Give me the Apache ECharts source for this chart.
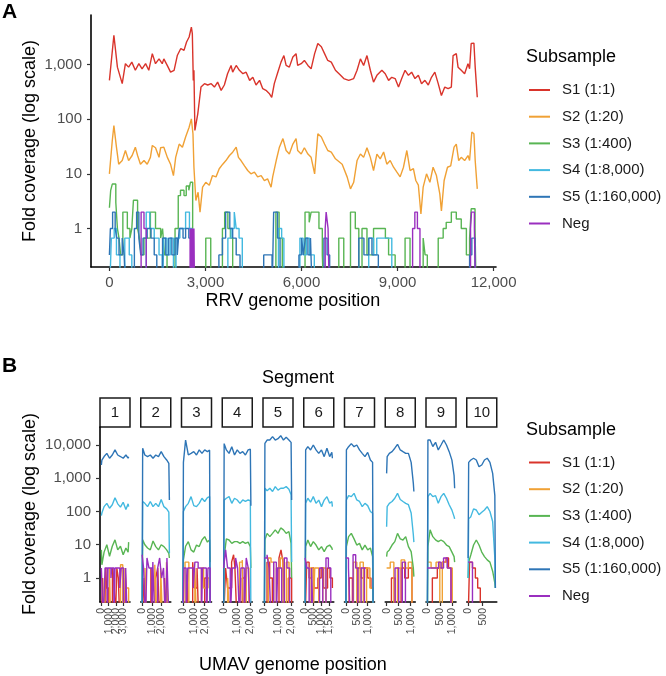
<!DOCTYPE html>
<html><head><meta charset="utf-8">
<script src="https://cdn.jsdelivr.net/npm/echarts@6/dist/echarts.min.js"></script>
<style>html,body{margin:0;padding:0;background:#fff}#c{width:666px;height:676px}</style>
</head><body><div id="c"></div>
<script>
// ---------- shared ----------
const subsampleNames = ['S1 (1:1)','S2 (1:20)','S3 (1:400)','S4 (1:8,000)','S5 (1:160,000)','Neg'];
const subsampleColors = ['#d9342b','#f0a135','#58b553','#43b9e0','#2e75b6','#9a2fbf'];

// ---------- panel A : RRV ----------
const rrvTicksX = [0,3000,6000,9000,12000];
const rrvTicksY = [1,10,100,1000];
const rrvS1 = [[0,510],[140,3400],[250,890],[400,444],[500,1030],[600,890],[700,1100],[810,780],[920,1030],[1020,830],[1130,1030],[1230,780],[1340,1570],[1440,1030],[1550,1260],[1650,1030],[1700,1260],[1810,950],[1910,720],[2020,780],[2120,1450],[2230,1950],[2330,1800],[2410,2560],[2490,3160],[2560,4800],[2590,3650],[2620,510],[2640,780],[2670,62],[2760,125],[2810,219],[2860,385],[2970,444],[3070,420],[3180,444],[3280,385],[3380,474],[3490,335],[3590,420],[3690,675],[3800,955],[3850,720],[3960,955],[4060,780],[4170,675],[4270,720],[4380,510],[4480,580],[4580,420],[4690,510],[4790,360],[4890,335],[5000,290],[5070,250],[5150,444],[5260,720],[5360,1100],[5450,1450],[5520,955],[5620,890],[5730,1360],[5830,1570],[5880,955],[5990,1030],[6090,1180],[6200,955],[6300,830],[6410,1570],[6510,2400],[6620,2100],[6720,1570],[6820,1180],[6930,1100],[7060,780],[7220,630],[7320,550],[7475,510],[7630,550],[7735,780],[7840,1260],[7940,955],[8045,1450],[8150,780],[8250,474],[8355,630],[8510,780],[8615,675],[8720,510],[8820,580],[8925,550],[9030,385],[9130,550],[9235,780],[9340,630],[9440,720],[9545,550],[9650,630],[9750,444],[9855,510],[9960,420],[10060,580],[10165,720],[10270,444],[10370,270],[10475,385],[10580,360],[10680,385],[10735,1450],[10835,1570],[10890,890],[10990,780],[11095,675],[11200,1030],[11250,830],[11300,2400],[11385,2450],[11425,890],[11490,250]];
const rrvS2 = [[0,10],[90,40.7],[140,76],[220,30.7],[290,15],[400,17.5],[500,26.7],[600,17.5],[710,21.6],[810,30.7],[880,21.6],[970,15],[1080,17.5],[1180,15],[1280,20],[1340,33],[1440,30],[1550,20],[1600,30],[1700,30.7],[1810,20],[1910,15],[2000,9.3],[2070,20],[2180,35],[2280,30.7],[2380,47],[2490,71],[2560,101],[2610,54],[2640,13.2],[2700,3.25],[2770,4.6],[2830,2.0],[2910,5.7],[3010,7.0],[3120,6.2],[3220,9.3],[3330,8.8],[3430,12.4],[3540,15],[3640,17.5],[3750,21.6],[3850,24.9],[3960,30.7],[4030,20],[4110,17.5],[4220,14],[4320,11.5],[4420,10],[4530,10.7],[4630,8.8],[4740,9.3],[4840,7.55],[4940,8.1],[5050,5.7],[5100,8.8],[5210,17.5],[5310,30.7],[5420,44],[5520,26.7],[5620,23],[5730,35],[5830,44],[5880,26.7],[5990,23],[6090,30],[6200,23],[6300,20],[6410,10],[6510,54],[6620,47],[6720,35],[6820,26.7],[6930,25],[7060,18.8],[7270,15],[7425,8.8],[7530,5.3],[7630,7],[7735,17.5],[7840,23],[7940,20],[8045,30],[8150,20],[8250,11.5],[8355,23],[8460,18.8],[8565,25],[8665,15],[8770,17.5],[8875,13.2],[8980,10.7],[9080,8.8],[9185,13.2],[9290,26.7],[9390,11.5],[9495,12.4],[9570,7.55],[9650,6.2],[9730,1.85],[9800,5.7],[9905,10],[10010,7],[10110,13.2],[10215,9.3],[10320,4.3],[10370,2.1],[10455,7.55],[10560,13.2],[10660,14],[10765,30.7],[10835,35],[10910,17.5],[10990,20],[11095,17.5],[11200,21.6],[11250,17.5],[11320,58],[11385,54],[11425,17.5],[11490,5.3]];
const rrvS3 = [[0,2.4],[40,5],[90,6.5],[200,3],[250,1],[300,0.67],[350,0.33],[420,2],[560,1],[640,0.67],[700,1],[750,3.3],[880,1],[940,0.67],[990,0.33],[1080,0.67],[1280,2],[1440,1],[1600,0.67],[1660,1],[1720,0.33],[1800,0],[2050,1],[2150,4],[2220,5],[2330,4],[2400,6],[2480,5],[2530,7],[2600,1],[2650,0],[3010,0.67],[3165,0],[3530,1],[3600,2],[3700,1],[3780,0.67],[3850,0],[5200,2],[5300,0.67],[5400,0],[6110,2],[6240,1.3],[6300,2],[6545,1],[6650,0.33],[6700,0],[7165,0.67],[7320,0],[7530,2],[7680,1],[7790,0],[7890,1],[8045,0.33],[8250,1],[8620,0.67],[8720,0.33],[8925,0],[9235,0.67],[9390,0],[9800,0.67],[9860,0.33],[9930,0],[10270,0.67],[10425,1],[10520,1.3],[10680,2],[10835,1.5],[10990,1],[11150,0.33],[11250,0.67],[11300,2.3],[11420,1],[11460,0]];
const rrvS4 = [[0,0],[60,0.67],[150,1],[220,0.33],[330,0],[480,0.67],[620,0.33],[700,0],[1150,2],[1260,1],[1400,0.67],[1550,0.33],[1650,0],[1700,0.67],[1800,0.33],[1900,0.67],[2000,0],[2080,0.67],[2200,1],[2380,2],[2500,1],[2580,0],[3700,0.67],[3800,1],[3900,2],[3960,1],[4050,0.67],[4150,0],[5280,1],[5380,0.67],[5450,0],[5950,0.67],[6050,0.33],[6150,0.67],[6250,0.33],[6400,0],[8100,0.67],[8250,0.33],[8350,0.67],[8820,0]];
const rrvS5 = [[0,0.33],[30,1],[100,2],[180,1],[230,0.67],[300,0.33],[400,0.67],[460,0.33],[520,0],[780,1],[850,2],[920,0.67],[980,0.33],[1050,0.67],[1180,1],[1300,0.67],[1400,0.33],[1480,0],[1660,0.67],[1760,0.33],[1850,0.67],[1950,0.33],[2050,0.67],[2120,0.33],[2180,1],[2300,0.67],[2380,1],[2480,0.67],[2560,0],[3420,0.33],[3530,0.67],[3630,2],[3760,1],[3850,0.67],[3960,0.33],[4080,0],[4820,0.33],[5080,0],[5130,2],[5250,0.67],[5330,0],[5920,0.33],[6000,0.67],[6060,0.33],[6120,0.67],[6200,0.33],[6280,0.67],[6340,0],[6700,0.67],[6800,0.33],[6880,0],[7790,0.67],[7950,0.33],[8100,0.67],[8200,0.33],[8400,0],[11250,0.33],[11320,0.67],[11420,0]];
const rrvNeg = [[0,0],[990,2],[1080,1],[1150,0],[2520,1],[2540,0],[2550,1],[2570,0],[2580,1],[2600,0],[2610,1],[2630,0],[2640,1],[2660,0],[6740,1],[6770,2],[6830,1],[6870,0],[9470,1],[9540,2],[9620,1],[9700,0],[11280,1],[11310,2],[11400,1],[11440,0]];

// ---------- panel B : UMAV ----------
const umavSegments = ['1','2','3','4','5','6','7','8','9','10'];
const umavLengths = [3700,2800,2500,2050,2050,1700,1250,1130,1095,940];
const umavTicksX = [[0,1000,2000,3000],[0,1000,2000],[0,1000,2000],[0,1000,2000],[0,1000,2000],[0,500,1000,1500],[0,500,1000],[0,500,1000],[0,500,1000],[0,500]];
const umavTicksY = [1,10,100,1000,10000];
const umavPos = [
 [0,70,370,740,1110,1480,1850,2220,2590,2960,3330,3630,3700],
 [0,56,280,560,840,1120,1400,1680,1960,2240,2520,2744,2800],
 [0,50,250,500,750,1000,1250,1500,1750,2000,2250,2450,2500],
 [0,41,205,410,615,820,1025,1230,1435,1640,1845,2009,2050],
 [0,41,205,410,615,820,1025,1230,1435,1640,1845,2009,2050],
 [0,34,170,340,510,680,850,1020,1190,1360,1530,1666,1700],
 [0,25,125,250,375,500,625,750,875,1000,1125,1225,1250],
 [0,23,113,226,339,452,565,678,791,904,1017,1107,1130],
 [0,22,110,219,329,438,548,657,767,876,986,1073,1095],
 [0,19,94,188,282,376,470,564,658,752,846,921,940]];
const umavS5 = [
 [2500,3500,4500,5600,4000,5000,7100,5000,4500,4000,5000,4000,4400],
 [0,8000,5000,4460,5000,4000,5000,4460,6300,4460,3540,2800,220],
 [0,3000,14000,5000,5600,6300,5000,7100,5600,7100,6300,7000,0],
 [0,11000,7100,5600,8900,5000,7100,5600,6300,5000,7100,7500,150],
 [0,11200,14100,14100,17800,14100,15500,19000,14100,17000,14100,12000,220],
 [0,7100,8900,7100,10000,7100,5600,7100,4460,8000,4460,6000,4000],
 [0,7100,8900,11000,8900,10000,7100,5600,4460,6000,3540,3000,0],
 [1400,4460,5600,6300,8000,10500,7100,6300,5600,5600,3000,700,400],
 [0,14100,14100,9000,12000,7100,10000,14100,10000,6300,3500,1200,500],
 [4,3000,3540,4000,3540,2230,2500,3540,4000,3000,1400,300,0.5]];
const umavS4 = [
 [75,90,140,176,125,160,260,170,135,190,115,170,140],
 [0,200,176,140,200,140,176,140,230,140,120,95,5.5],
 [0,100,140,176,280,150,140,176,250,200,260,280,0],
 [0,220,250,280,176,250,222,176,222,200,222,210,0],
 [0,500,420,500,400,560,440,500,500,560,470,320,3],
 [0,176,250,190,280,176,220,140,220,279,176,200,140],
 [0,222,300,279,352,222,200,140,176,150,100,88,0],
 [35,140,176,200,250,352,230,200,176,160,90,20,12],
 [0,280,352,279,300,176,279,352,250,160,110,70,60],
 [1,60,70,120,111,80,95,111,140,100,50,4,0.5]];
const umavS3 = [
 [7,2.5,6,10,4.5,9,14,7,9,5,8,6,12],
 [0,14,10,8,7,13,8.8,7,10,8.8,7,5.5,4],
 [0,3.5,9,12.4,7,6,9.8,8.8,13.9,17.5,12,14,3],
 [0,4.4,15,13.9,11,12.4,12.4,11,12.4,11,12,8.8,2],
 [0,14,22,17.5,22,28,22,32,28,22,25,11,1],
 [0,8.8,13.9,8.8,12.4,9.8,7,8.8,6.2,8.8,9.8,8,7],
 [0,8.8,17.5,22,15,9.8,11,7,9.8,7,8,4.4,0],
 [4.4,6,7,9.8,12.4,22,15,13.9,17.5,8.8,6.2,2,1.1],
 [0,8.8,28,17.5,14,12.4,13.9,12.4,9.8,8.8,6,4.4,3],
 [1,3,5,9.8,13.9,9.8,6,4.4,3.5,3,1.6,0.7,0.5]];
const umavS1 = [
 [[0,0],[150,1],[300,0],[600,2],[700,0.5],[1000,0],[1500,2],[1700,1],[1900,0],[2100,2],[2300,1],[2500,0],[3000,1],[3200,0],[3700,0]],
 [[0,0],[200,1],[400,0],[900,2],[1100,0],[1400,1],[1600,2],[1800,0],[2300,1],[2500,0],[2800,0]],
 [[0,0],[400,1],[500,0],[900,3],[1050,0.5],[1300,2],[1450,0],[2000,1],[2200,0],[2500,0]],
 [[0,0],[150,2],[300,0.5],[600,3],[750,5],[850,2],[1000,0],[1400,1],[1600,0],[2050,0]],
 [[0,0],[200,3],[400,1],[600,0],[1100,4],[1250,7],[1400,3],[1550,0],[1800,1],[2050,0]],
 [[0,0],[100,3],[250,1],[400,2],[550,0.5],[800,1],[1000,2],[1150,0.5],[1400,2],[1550,1],[1700,0.5]],
 [[0,0],[150,1],[300,0],[550,2],[700,1],[850,2],[1000,1],[1150,0.5],[1250,0]],
 [[0,0],[200,1],[350,0],[600,2],[750,1],[900,2],[1050,0],[1130,0]],
 [[0,0],[200,1],[400,2],[600,3],[750,4],[850,2],[950,0],[1095,0]],
 [[0,0],[50,3],[150,2],[250,1],[330,0.5],[420,0],[940,0]]];
const umavS2 = [
 [[0,0],[400,1],[550,0],[1100,2],[1250,0],[2600,2.5],[2900,0],[3200,2],[3400,0.5],[3700,0]],
 [[0,0],[300,2],[450,0],[1300,2.5],[1500,0],[1900,2],[2100,0],[2500,3],[2700,0],[2800,0]],
 [[0,0],[200,3],[550,0],[1100,2],[1250,0],[1700,2],[1900,0.5],[2300,1],[2500,0]],
 [[0,0],[300,1],[450,0],[1200,3],[1400,3.5],[1500,0],[1700,2],[1900,0],[2050,0]],
 [[0,0],[300,4],[500,3],[700,0],[900,2],[1200,4],[1400,0],[1650,3],[1850,0],[2050,0]],
 [[0,0],[300,2],[500,0],[600,2],[850,0],[1100,2],[1300,0],[1700,0]],
 [[0,0],[350,3],[500,0],[650,3],[800,0],[950,2],[1100,0.5],[1250,0]],
 [[0,2],[150,3],[300,0],[450,2],[600,3.5],[750,2],[900,3],[1050,0],[1130,0]],
 [[0,3],[150,2],[350,3],[500,0],[600,3],[800,2],[1000,0],[1095,0]],
 [[0,0],[940,0]]];
const umavNeg = [
 [[0,2],[250,0],[500,2],[800,0],[900,2],[1300,1],[1400,2],[1700,0],[1850,2],[2500,0.5],[2700,2],[3000,0],[3300,2],[3500,0],[3700,0]],
 [[0,5],[150,2],[350,0],[500,4],[700,2],[1000,0],[1100,3],[1300,0],[1600,2],[1800,4],[2000,1],[2200,2],[2400,0],[2550,4],[2750,0],[2800,0]],
 [[0,0],[100,2],[300,0],[450,2],[950,0.5],[1100,3],[1400,2],[1700,0],[1800,2],[2150,0],[2300,2],[2500,0]],
 [[0,2],[150,7],[300,2],[500,0],[650,2],[900,4],[1050,2],[1200,0],[1300,2],[1550,0],[1700,4],[1850,2],[2000,0],[2050,0]],
 [[0,4],[200,5],[350,2],[500,0],[700,3],[900,0],[1000,2],[1300,0],[1500,4],[1700,2],[1900,0],[2050,0]],
 [[0,4],[100,2],[250,0],[400,2],[500,0],[900,2],[1100,0],[1300,4],[1450,2],[1600,0],[1700,0]],
 [[0,4],[120,2],[200,0],[330,5],[450,2],[550,0],[700,2],[850,0],[1250,0]],
 [[0,0],[350,2],[500,0],[650,3],[780,0],[1130,0]],
 [[0,2],[450,3],[550,2],[650,4],[800,2],[950,0],[1095,0]],
 [[0,3],[150,0],[940,0]]];

// ---------- build ----------
const FONT = '"Liberation Sans", Arial, Helvetica, sans-serif';
const FLOOR = 0.05; // zero coverage drawn below the axis floor (clipped)
const fix = v => (v <= 0 ? FLOOR : v);
const fmt = v => String(Math.round(v)).replace(/\B(?=(\d{3})+(?!\d))/g, ',');
const pairs = arr => arr.map(p => [p[0], fix(p[1])]);

const grids = [], xAxes = [], yAxes = [], series = [];
const axisLineStyle = {color:'#000', width:1.6};
const tickStyle = {color:'#333', width:1.2};

function addSeries(name, idx, data, step, gi) {
  const s = {name, type:'line', xAxisIndex:gi, yAxisIndex:gi, data, symbol:'none', showSymbol:false,
    lineStyle:{color:subsampleColors[idx], width:1.4}, itemStyle:{color:subsampleColors[idx]},
    clip:true, silent:true, z:2+idx, animation:false};
  if (step) s.step = 'end';
  series.push(s);
}

// Panel A
grids.push({left:91, top:15, width:405, height:252});
xAxes.push({type:'value', gridIndex:0, position:'bottom', min:-575, max:12075,
  axisLine:{onZero:false, lineStyle:axisLineStyle}, splitLine:{show:false},
  axisTick:{customValues:rrvTicksX, length:4, lineStyle:tickStyle},
  axisLabel:{customValues:rrvTicksX, formatter:fmt, color:'#4d4d4d', fontSize:15, margin:8, fontFamily:FONT, showMinLabel:true, showMaxLabel:true}});
yAxes.push({type:'log', logBase:10, gridIndex:0, min:0.1985, max:7980,
  axisLine:{show:true, onZero:false, lineStyle:axisLineStyle}, splitLine:{show:false},
  axisTick:{show:true, customValues:rrvTicksY, length:4, lineStyle:tickStyle},
  axisLabel:{customValues:rrvTicksY, formatter:fmt, color:'#4d4d4d', fontSize:15, margin:9, fontFamily:FONT, showMinLabel:true, showMaxLabel:true}});
const rrvAll = [rrvS1, rrvS2, rrvS3, rrvS4, rrvS5, rrvNeg];
rrvAll.forEach((d, i) => addSeries(subsampleNames[i], i, pairs(d), i >= 2, 0));

// Panel B
const umavX0 = 100, umavStep = 40.75;
const labelAxes = [];
umavLengths.forEach((L, k) => {
  const gi = k + 1;
  grids.push({left: umavX0 + umavStep * k, top:427, width:30, height:175});
  // main axis: line + ticks
  xAxes.push({type:'value', gridIndex:gi, position:'bottom', min:-0.05 * L, max:1.05 * L,
    axisLine:{onZero:false, lineStyle:axisLineStyle}, splitLine:{show:false},
    axisTick:{customValues:umavTicksX[k], length:4, lineStyle:tickStyle},
    axisLabel:{show:false}});
  // one label-only axis per tick (labels are allowed to overlap as in the original)
  umavTicksX[k].forEach(t => {
    labelAxes.push({type:'value', gridIndex:gi, position:'bottom', offset:0, min:-0.05 * L, max:1.05 * L,
      axisLine:{show:false, onZero:false}, axisTick:{show:false}, splitLine:{show:false},
      axisLabel:{customValues:[t], formatter:fmt, rotate:90, color:'#4d4d4d', fontSize:10.5, margin:6, fontFamily:FONT, showMinLabel:true, showMaxLabel:true}});
  });
  yAxes.push({type:'log', logBase:10, gridIndex:gi, min:0.1897, max:34750,
    show: k === 0,
    axisLine:{show:true, onZero:false, lineStyle:axisLineStyle}, splitLine:{show:false},
    axisTick:{show:true, customValues:umavTicksY, length:4, lineStyle:tickStyle},
    axisLabel:{customValues:umavTicksY, formatter:fmt, color:'#4d4d4d', fontSize:15, margin:9, fontFamily:FONT, showMinLabel:true, showMaxLabel:true}});
  const pos = umavPos[k];
  const smooth = a => a.map((v, j) => [pos[j], fix(v)]);
  addSeries(subsampleNames[0], 0, pairs(umavS1[k]), true, gi);
  addSeries(subsampleNames[1], 1, pairs(umavS2[k]), true, gi);
  addSeries(subsampleNames[2], 2, smooth(umavS3[k]), false, gi);
  addSeries(subsampleNames[3], 3, smooth(umavS4[k]), false, gi);
  addSeries(subsampleNames[4], 4, smooth(umavS5[k]), false, gi);
  addSeries(subsampleNames[5], 5, pairs(umavNeg[k]), true, gi);
});
labelAxes.forEach(a => xAxes.push(a));

// graphics
const txt = (text, x, y, size, opts = {}) => Object.assign({type:'text', x, y, silent:true,
  style:{text, x:0, y:0, align:'center', verticalAlign:'middle', fontSize:size, fontFamily:FONT, fill:'#000'}}, opts);
const graphic = [
  {type:'text', x:2, y:12, style:{text:'A', x:0, y:0, align:'left', verticalAlign:'middle', fontSize:21, fontWeight:'bold', fontFamily:FONT, fill:'#000'}},
  {type:'text', x:2, y:366, style:{text:'B', x:0, y:0, align:'left', verticalAlign:'middle', fontSize:21, fontWeight:'bold', fontFamily:FONT, fill:'#000'}},
  txt('Fold coverage (log scale)', 30, 141, 18, {rotation: Math.PI / 2}),
  txt('RRV genome position', 293, 301, 18),
  txt('Fold coverage (log scale)', 30, 514, 18, {rotation: Math.PI / 2}),
  txt('UMAV genome position', 293, 665, 18),
  txt('Segment', 298, 378, 18),
  {type:'text', x:526, y:57, style:{text:'Subsample', x:0, y:0, align:'left', verticalAlign:'middle', fontSize:18, fontFamily:FONT, fill:'#000'}},
  {type:'text', x:526, y:430, style:{text:'Subsample', x:0, y:0, align:'left', verticalAlign:'middle', fontSize:18, fontFamily:FONT, fill:'#000'}}
];
umavSegments.forEach((s, k) => {
  const x = umavX0 + umavStep * k;
  graphic.push({type:'rect', silent:true, shape:{x:x, y:398, width:30, height:29}, style:{fill:'#fff', stroke:'#1a1a1a', lineWidth:1.5}});
  graphic.push(txt(s, x + 15, 412.5, 15, {style:{text:s, x:0, y:0, align:'center', verticalAlign:'middle', fontSize:15, fontFamily:FONT, fill:'#1a1a1a'}}));
});

const legendBase = {orient:'vertical', left:529, itemWidth:21, itemHeight:2, icon:'rect', itemGap:8.7,
  selectedMode:false, padding:0, data:subsampleNames,
  textStyle:{fontSize:15, color:'#1a1a1a', lineHeight:18, padding:[0,0,0,7], fontFamily:FONT}};

const chart = echarts.init(document.getElementById('c'), null, {renderer:'canvas'});
chart.setOption({
  animation:false,
  backgroundColor:'#fff',
  grid:grids, xAxis:xAxes, yAxis:yAxes, series,
  legend:[Object.assign({top:81}, legendBase), Object.assign({top:453.5}, legendBase)],
  graphic
});
</script></body></html>
